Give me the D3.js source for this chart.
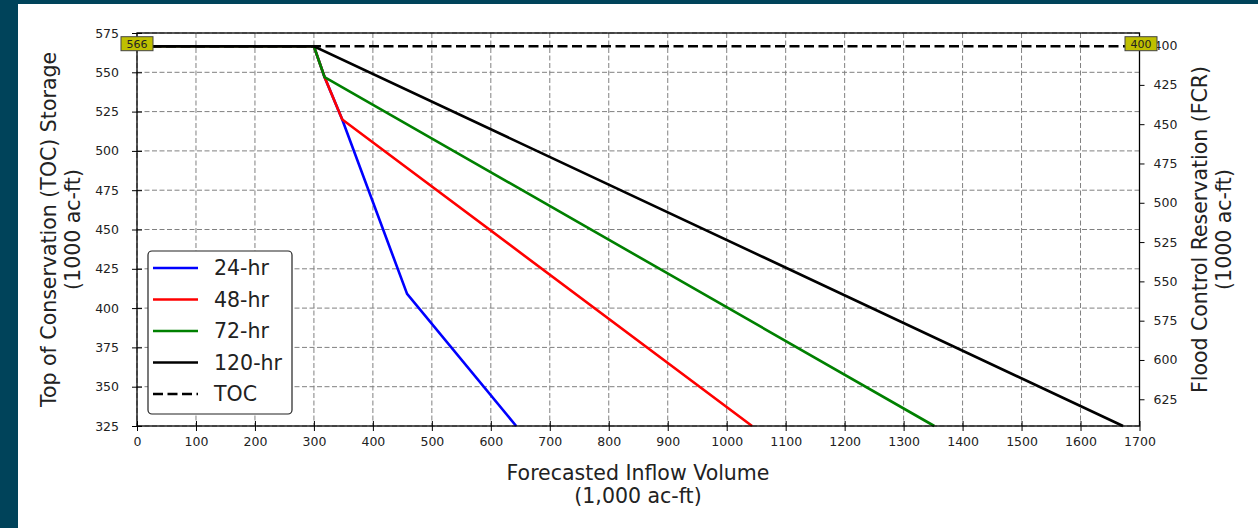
<!DOCTYPE html>
<html>
<head>
<meta charset="utf-8">
<script src="https://cdn.jsdelivr.net/npm/d3@7"></script>
<style>
  html, body { margin: 0; padding: 0; background: #00435a; }
  svg { display: block; }
  text { font-family: "DejaVu Sans", sans-serif; fill: #222; }
</style>
</head>
<body>
<svg id="chart" width="1258" height="528"></svg>
<script>
// ---- data ----
const xTicks = [0,100,200,300,400,500,600,700,800,900,1000,1100,1200,1300,1400,1500,1600,1700];
const yTicks = [325,350,375,400,425,450,475,500,525,550,575];
const fcrTicks = [400,425,450,475,500,525,550,575,600,625];
const capacity = 967;          // storage + FCR
const tocStorage = 566.6;      // TOC storage (1000 ac-ft)

const seriesNames = ["24-hr","48-hr","72-hr","120-hr"];
const seriesColors = ["#0000ff","#ff0000","#008000","#000000"];
const inflow24 = [0,300,318,348,458,643];
const storage24 = [566.6,566.6,547,520,409,325];
const inflow48 = [0,300,318,348,1043];
const storage48 = [566.6,566.6,547,520,325];
const inflow72 = [0,300,318,1352];
const storage72 = [566.6,566.6,547,325];
const inflow120 = [0,300,1672];
const storage120 = [566.6,566.6,325];
const tocInflow = [0,1700];

// ---- layout ----
const svg = d3.select("#chart");
svg.append("rect").attr("x",18).attr("y",4).attr("width",1240).attr("height",524).attr("fill","#fff");

const L = 137, R = 1139.5, T = 33, B = 426;
const x = d3.scaleLinear().domain([0,1700]).range([L,R]);
const y = d3.scaleLinear().domain([325,575]).range([B,T]);
const yR = d3.scaleLinear().domain([capacity-575, capacity-325]).range([T,B]);

// grid
const grid = svg.append("g");
grid.selectAll(".gx").data(xTicks).join("line")
  .attr("x1",d=>x(d)).attr("x2",d=>x(d)).attr("y1",T).attr("y2",B)
  .attr("stroke","#808080").attr("stroke-width",1).attr("stroke-dasharray","5,2.5");
grid.selectAll(".gy").data(yTicks).join("line")
  .attr("x1",L).attr("x2",R).attr("y1",d=>y(d)).attr("y2",d=>y(d))
  .attr("stroke","#808080").attr("stroke-width",1).attr("stroke-dasharray","5,2.5");

// series
const lw = 2.6;
const line = d3.line().x(d=>x(d[0])).y(d=>y(d[1]));
const series = [
  d3.zip(inflow24, storage24),
  d3.zip(inflow48, storage48),
  d3.zip(inflow72, storage72),
  d3.zip(inflow120, storage120)
];
series.forEach((s,i)=>{
  svg.append("path").datum(s).attr("d",line).attr("fill","none")
    .attr("stroke",seriesColors[i]).attr("stroke-width",lw).attr("stroke-linejoin","miter");
});
svg.append("path").datum(tocInflow.map(v=>[v,tocStorage])).attr("d",line)
  .attr("fill","none").attr("stroke","#000").attr("stroke-width",lw).attr("stroke-dasharray","10,4.5");

// axes
const fs = "12.5px";
const xAxis = svg.append("g").attr("transform",`translate(0,${B})`)
  .call(d3.axisBottom(x).tickValues(xTicks).tickFormat(d3.format("d")).tickSizeInner(5).tickSizeOuter(0).tickPadding(6));
xAxis.selectAll(".tick line").attr("y1",-5);
const yAxis = svg.append("g").attr("transform",`translate(${L},0)`)
  .call(d3.axisLeft(y).tickValues(yTicks).tickFormat(d3.format("d")).tickSizeInner(5).tickSizeOuter(0).tickPadding(13));
yAxis.selectAll(".tick line").attr("x1",5);
const yAxisR = svg.append("g").attr("transform",`translate(${R},0)`)
  .call(d3.axisRight(yR).tickValues(fcrTicks).tickFormat(d3.format("d")).tickSizeInner(5).tickSizeOuter(0).tickPadding(9));
[xAxis,yAxis,yAxisR].forEach(a=>{
  a.select(".domain").remove();
  a.selectAll("text").style("font-size",fs).style("font-family","DejaVu Sans").attr("fill","#222");
  a.selectAll(".tick line").attr("stroke","#000").attr("stroke-width",1);
});
// frame
svg.append("rect").attr("x",L).attr("y",T).attr("width",R-L).attr("height",B-T)
  .attr("fill","none").attr("stroke","#000").attr("stroke-width",1.3);

// TOC / FCR labels
function tag(cx, cy, txt){
  const g = svg.append("g");
  g.append("rect").attr("x",cx-16).attr("y",cy-7).attr("width",32).attr("height",14)
    .attr("fill","#bfbf00").attr("stroke","#444").attr("stroke-width",1);
  g.append("text").attr("x",cx).attr("y",cy+4).attr("text-anchor","middle")
    .style("font-size","11px").text(txt);
}
tag(x(0), y(tocStorage)-2.5, String(Math.floor(tocStorage)));
tag(x(1700)+1.5, y(tocStorage)-2.5, String(Math.floor(capacity-tocStorage)));

// axis titles
const tfs = "20.5px";
const xl = svg.append("text").attr("text-anchor","middle").style("font-size",tfs);
xl.append("tspan").attr("x",638).attr("y",480).text("Forecasted Inflow Volume");
xl.append("tspan").attr("x",638).attr("y",503).text("(1,000 ac-ft)");

const yl = svg.append("text").attr("text-anchor","middle").style("font-size",tfs)
  .attr("transform",`translate(56,${(T+B)/2}) rotate(-90)`);
yl.append("tspan").attr("x",0).attr("y",0).text("Top of Conservation (TOC) Storage");
yl.append("tspan").attr("x",0).attr("y",24).text("(1000 ac-ft)");

const yr = svg.append("text").attr("text-anchor","middle").style("font-size",tfs)
  .attr("transform",`translate(1207,${(T+B)/2}) rotate(-90)`);
yr.append("tspan").attr("x",0).attr("y",0).text("Flood Control Reservation (FCR)");
yr.append("tspan").attr("x",0).attr("y",24).text("(1000 ac-ft)");

// legend
const lg = svg.append("g");
lg.append("rect").attr("x",148).attr("y",251).attr("width",144).attr("height",163)
  .attr("rx",4).attr("fill","#fff").attr("stroke","#222").attr("stroke-width",1.2);
const legNames = seriesNames.concat(["TOC"]);
const legColors = seriesColors.concat(["#000"]);
legNames.forEach((n,i)=>{
  const cy = 268 + i*31.5;
  lg.append("line").attr("x1",153).attr("x2",198).attr("y1",cy).attr("y2",cy)
    .attr("stroke",legColors[i]).attr("stroke-width",lw)
    .attr("stroke-dasharray", n==="TOC" ? "10,4.5" : null);
  lg.append("text").attr("x",214).attr("y",cy+7).style("font-size",tfs).text(n);
});
</script>
</body>
</html>
